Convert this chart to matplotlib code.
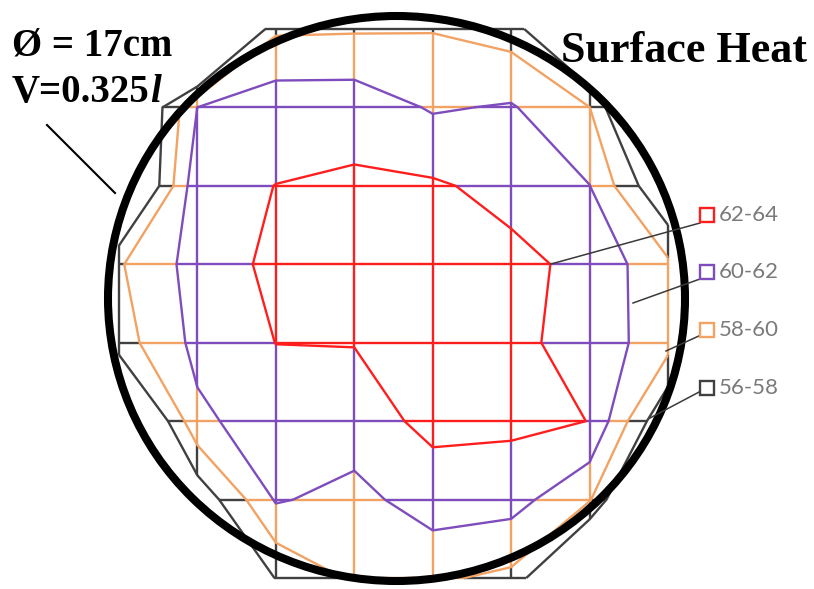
import numpy as np
import matplotlib
matplotlib.use("Agg")
import matplotlib.pyplot as plt
from matplotlib.collections import LineCollection
from matplotlib.patches import Ellipse

# Surface temperature samples on an 8 x 8 grid (rows top -> bottom, columns left -> right)
row0 = [40.0, 45.0, 57.7, 57.8, 57.9, 57.1, 50.5, 40.0]
row1 = [51.0, 60.02, 61.2, 61.2, 59.8, 60.18, 58.03, 48.0]
row2 = [50.3, 61.4, 62.02, 62.3, 62.25, 61.4, 60.03, 53.6]
row3 = [57.8, 60.8, 62.5, 63.0, 63.0, 62.5, 61.5, 58.4]
row4 = [57.1, 60.53, 62.02, 62.05, 62.8, 62.5, 61.2, 58.8]
row5 = [50.0, 59.6, 61.0, 61.2, 62.45, 62.4, 61.98, 53.8]
row6 = [45.0, 54.4, 60.2, 59.3, 61.1, 60.8, 58.2, 48.0]
row7 = [40.0, 45.0, 56.2, 58.3, 58.3, 57.55, 49.5, 40.0]

levels = [56, 58, 60, 62, 64]
band_labels = ["62-64", "60-62", "58-60", "56-58"]
band_colors = ["#404040", "#F2A263", "#7E4CBC", "#FF1E1E"]   # 56-58, 58-60, 60-62, 62-64

diameter_text = "Ø = 17cm"
volume_text = "V=0.325"
title_text = "Surface Heat"

Z = np.array([row0, row1, row2, row3, row4, row5, row6, row7])
nrow, ncol = Z.shape

# layout (pixel space)
W, H = 814, 589
x0, y0, step = 119.0, 29.0, 78.43
gx = x0 + step * np.arange(ncol)
gy = y0 + step * np.arange(nrow)
X, Y = np.meshgrid(gx, gy)

fig = plt.figure(figsize=(W / 100, H / 100), dpi=100)
ax = fig.add_axes([0, 0, 1, 1])
ax.set_xlim(0, W)
ax.set_ylim(H, 0)
ax.axis("off")

LW = 1.7


def split_edge(p, q, a, b):
    """Cut a grid edge at the level crossings; return (segment, band) pieces."""
    ts = [0.0, 1.0]
    if a != b:
        for lv in levels:
            t = (lv - a) / (b - a)
            if 0 < t < 1:
                ts.append(t)
    ts = sorted(ts)
    out = []
    for t0, t1 in zip(ts[:-1], ts[1:]):
        tm = 0.5 * (t0 + t1)
        v = a + (b - a) * tm
        if v < levels[0] or v > levels[-1]:
            continue
        band = int(np.searchsorted(levels, v, side="right") - 1)
        s = (p[0] + (q[0] - p[0]) * t0, p[1] + (q[1] - p[1]) * t0)
        e = (p[0] + (q[0] - p[0]) * t1, p[1] + (q[1] - p[1]) * t1)
        out.append(([s, e], band))
    return out


segs = {k: [] for k in range(len(band_colors))}
for r in range(nrow):
    for c in range(ncol):
        p = (gx[c], gy[r])
        if c + 1 < ncol:
            for seg, band in split_edge(p, (gx[c + 1], gy[r]), Z[r, c], Z[r, c + 1]):
                segs[band].append(seg)
        if r + 1 < nrow:
            for seg, band in split_edge(p, (gx[c], gy[r + 1]), Z[r, c], Z[r + 1, c]):
                segs[band].append(seg)

for band, lst in segs.items():
    if lst:
        ax.add_collection(LineCollection(lst, colors=band_colors[band], linewidths=LW,
                                         capstyle="butt", zorder=2))

# band boundaries
ax.contour(X, Y, Z, levels=levels[:-1], colors=band_colors, linewidths=LW, zorder=3)

# outline of the pan
ax.add_patch(Ellipse((396.5, 298.5), 577, 565, fill=False, edgecolor="black",
                     linewidth=5.8, zorder=6))

# legend with leader lines
leg_y = [215, 272, 330, 388]
leader_from = [(551, 264), (633, 303), (666, 351), (650, 418)]
leader_to = [(700, 223), (700, 279), (701, 335), (701, 391)]
for i, lab in enumerate(band_labels):
    col = band_colors[len(band_colors) - 1 - i]
    ax.plot([leader_from[i][0], leader_to[i][0]], [leader_from[i][1], leader_to[i][1]],
            color="#3a3a3a", lw=1.1, zorder=7)
    ax.plot([707], [leg_y[i]], marker="s", ms=10, mfc="white", mec=col, mew=1.7, zorder=8)
    ax.text(719, leg_y[i], lab, fontsize=16, color="#7A7A7A", family="Lato",
            va="center", ha="left", zorder=8)

# annotations
serif = "Liberation Serif"
ax.text(12, 56, diameter_text, fontsize=28, fontweight="bold", family=serif,
        ha="left", va="baseline", zorder=8)
t_vol = ax.text(12, 102, volume_text, fontsize=28, fontweight="bold", family=serif,
                ha="left", va="baseline", zorder=8)
ax.annotate("l", xy=(1.0, 0.0), xycoords=t_vol, fontsize=28, fontweight="bold",
            fontstyle="italic", family=serif, ha="left", va="bottom", zorder=8)
ax.plot([47, 115], [125, 193], color="black", lw=1.5, zorder=7)
ax.text(561, 62, title_text, fontsize=31.8, fontweight="bold", family=serif,
        ha="left", va="baseline", zorder=8)

fig.savefig("out.png", dpi=100)
